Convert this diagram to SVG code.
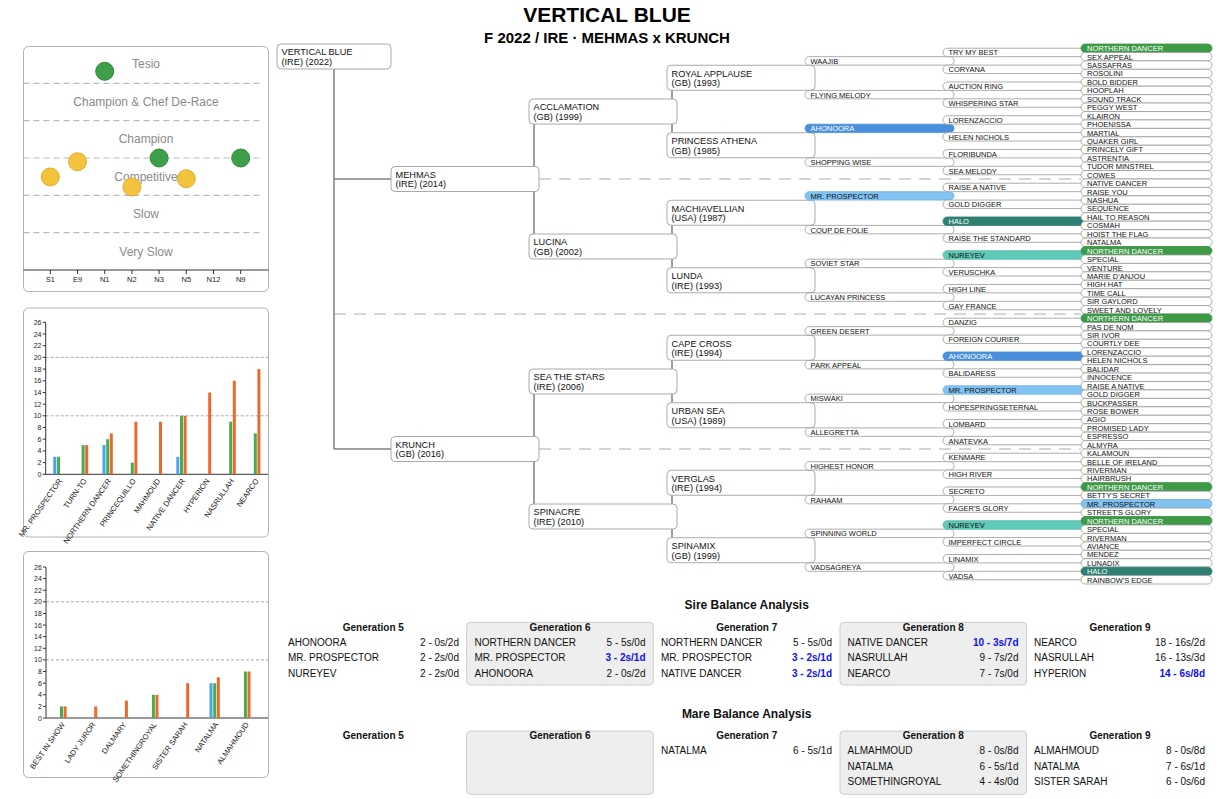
<svg xmlns="http://www.w3.org/2000/svg" width="1220" height="799" viewBox="0 0 1220 799">
<style>
text{font-family:"Liberation Sans",Arial,Helvetica,sans-serif}
.ttl{font-size:21px;font-weight:bold;fill:#000}
.sub{font-size:15px;font-weight:bold;fill:#000}
.bx{fill:#fff;stroke:#aaa;stroke-width:1}
.bt{font-size:9.2px;fill:#111}
.p{fill:#fff;stroke:#999;stroke-width:0.8}
.pt{font-size:7.5px;fill:#111}
.w{fill:#fff}
.gN{fill:#3e9a47;stroke:#3e9a47}
.bA{fill:#4a8fdb;stroke:#4a8fdb}
.lM{fill:#82c3f2;stroke:#6fb3e3}
.hH{fill:#2f7f72;stroke:#2f7f72}
.tN{fill:#5fcab7;stroke:#4fb7a4}
.con{fill:none;stroke:#808080;stroke-width:1.5}
.sep{fill:none;stroke:#c8c8c8;stroke-width:1.5;stroke-dasharray:12 8}
.panel{fill:#fff;stroke:#b0b0b0;stroke-width:1}
.band{stroke:#bbb;stroke-width:1.2;stroke-dasharray:6 4}
.bl{font-size:12px;fill:#8a8a8a;text-anchor:middle}
.ax{stroke:#333;stroke-width:1;fill:none}
.tk{font-size:7.5px;fill:#222;text-anchor:middle}
.yt{font-size:7px;fill:#222;text-anchor:end}
.grid{stroke:#aaa;stroke-width:1;stroke-dasharray:3 2}
.xl{font-size:7.6px;fill:#222;text-anchor:end}
.cg{fill:#3e9e49;stroke:#2f8a3a;stroke-width:1}
.cy{fill:#f3c33e;stroke:#e2ad28;stroke-width:1}
.b1{fill:#4aa3ec}
.b2{fill:#45ae52}
.b3{fill:#ea6a2e}
.sh{font-size:12px;font-weight:bold;fill:#111;text-anchor:middle}
.gh{font-size:10px;font-weight:bold;fill:#111;text-anchor:middle}
.tn{font-size:10px;fill:#111}
.tv{font-size:10px;fill:#111;text-anchor:end}
.hl{fill:#1010ee;font-weight:bold}
.gbox{fill:#eee;stroke:#ccc;stroke-width:1}
</style>

<text class="ttl" x="607" y="21.5" text-anchor="middle">VERTICAL BLUE</text>
<text class="sub" x="607" y="43.3" text-anchor="middle">F 2022 / IRE · MEHMAS x KRUNCH</text>

<!-- Left chart 1 -->
<g id="chart-type">
<rect class="panel" x="23.5" y="46.5" width="245" height="245" rx="5"/>
<line class="band" x1="23.5" y1="83.3" x2="261" y2="83.3"/>
<line class="band" x1="23.5" y1="120.7" x2="261" y2="120.7"/>
<line class="band" x1="23.5" y1="158" x2="261" y2="158"/>
<line class="band" x1="23.5" y1="195.3" x2="261" y2="195.3"/>
<line class="band" x1="23.5" y1="232.7" x2="261" y2="232.7"/>
<text class="bl" x="146" y="68">Tesio</text>
<text class="bl" x="146" y="106">Champion &amp; Chef De-Race</text>
<text class="bl" x="146" y="143.3">Champion</text>
<text class="bl" x="146" y="180.5">Competitive</text>
<text class="bl" x="146" y="217.5">Slow</text>
<text class="bl" x="146" y="255.5">Very Slow</text>
<line class="ax" x1="23.5" y1="270" x2="268.5" y2="270"/>
<path class="ax" d="M50.3 270v4M77.5 270v4M104.7 270v4M131.9 270v4M159.1 270v4M186.3 270v4M213.5 270v4M240.7 270v4"/>
<text class="tk" x="50.3" y="282">S1</text>
<text class="tk" x="77.5" y="282">E9</text>
<text class="tk" x="104.7" y="282">N1</text>
<text class="tk" x="131.9" y="282">N2</text>
<text class="tk" x="159.1" y="282">N3</text>
<text class="tk" x="186.3" y="282">N5</text>
<text class="tk" x="213.5" y="282">N12</text>
<text class="tk" x="240.7" y="282">N9</text>
<circle class="cg" cx="104.7" cy="71.3" r="9"/>
<circle class="cg" cx="159.1" cy="158" r="9"/>
<circle class="cg" cx="240.7" cy="158" r="9"/>
<circle class="cy" cx="50.3" cy="177" r="9"/>
<circle class="cy" cx="77.5" cy="161.7" r="9"/>
<circle class="cy" cx="131.9" cy="187" r="9"/>
<circle class="cy" cx="186.3" cy="178.7" r="9"/>
</g>

<!-- Left chart 2 -->
<g id="chart-sires">
<rect class="panel" x="23.5" y="308" width="245" height="229" rx="5"/>
<line class="grid" x1="45.7" y1="357.4" x2="268" y2="357.4"/>
<line class="grid" x1="45.7" y1="415.8" x2="268" y2="415.8"/>
<line class="ax" x1="45.7" y1="322.3" x2="45.7" y2="474.3"/>
<line class="ax" x1="45.7" y1="474.3" x2="268" y2="474.3"/>
<path class="ax" d="M42.7 474.3h3M42.7 462.6h3M42.7 450.9h3M42.7 439.2h3M42.7 427.5h3M42.7 415.8h3M42.7 404.2h3M42.7 392.5h3M42.7 380.8h3M42.7 369.1h3M42.7 357.4h3M42.7 345.7h3M42.7 334h3M42.7 322.3h3"/>
<text class="yt" x="41.5" y="476.8">0</text>
<text class="yt" x="41.5" y="465.1">2</text>
<text class="yt" x="41.5" y="453.4">4</text>
<text class="yt" x="41.5" y="441.7">6</text>
<text class="yt" x="41.5" y="430">8</text>
<text class="yt" x="41.5" y="418.3">10</text>
<text class="yt" x="41.5" y="406.7">12</text>
<text class="yt" x="41.5" y="395">14</text>
<text class="yt" x="41.5" y="383.3">16</text>
<text class="yt" x="41.5" y="371.6">18</text>
<text class="yt" x="41.5" y="359.9">20</text>
<text class="yt" x="41.5" y="348.2">22</text>
<text class="yt" x="41.5" y="336.5">24</text>
<text class="yt" x="41.5" y="324.8">26</text>
<rect class="b1" x="53.3" y="456.8" width="3" height="17.5"/>
<rect class="b2" x="57" y="456.8" width="3" height="17.5"/>
<rect class="b2" x="81.6" y="445.1" width="3" height="29.2"/>
<rect class="b3" x="85.2" y="445.1" width="3" height="29.2"/>
<rect class="b1" x="102.5" y="445.1" width="3" height="29.2"/>
<rect class="b2" x="106.2" y="439.2" width="3" height="35.1"/>
<rect class="b3" x="109.8" y="433.4" width="3" height="40.9"/>
<rect class="b2" x="130.8" y="462.6" width="3" height="11.7"/>
<rect class="b3" x="134.4" y="421.7" width="3" height="52.6"/>
<rect class="b3" x="159" y="421.7" width="3" height="52.6"/>
<rect class="b1" x="176.3" y="456.8" width="3" height="17.5"/>
<rect class="b2" x="180" y="415.8" width="3" height="58.5"/>
<rect class="b3" x="183.6" y="415.8" width="3" height="58.5"/>
<rect class="b3" x="208.2" y="392.5" width="3" height="81.8"/>
<rect class="b2" x="229.2" y="421.7" width="3" height="52.6"/>
<rect class="b3" x="232.8" y="380.8" width="3" height="93.5"/>
<rect class="b2" x="253.8" y="433.4" width="3" height="40.9"/>
<rect class="b3" x="257.4" y="369.1" width="3" height="105.2"/>
<text class="xl" transform="translate(62.3,481) rotate(-55)">MR. PROSPECTOR</text>
<text class="xl" transform="translate(86.9,481) rotate(-55)">TURN-TO</text>
<text class="xl" transform="translate(111.5,481) rotate(-55)">NORTHERN DANCER</text>
<text class="xl" transform="translate(136.1,481) rotate(-55)">PRINCEQUILLO</text>
<text class="xl" transform="translate(160.7,481) rotate(-55)">MAHMOUD</text>
<text class="xl" transform="translate(185.3,481) rotate(-55)">NATIVE DANCER</text>
<text class="xl" transform="translate(209.9,481) rotate(-55)">HYPERION</text>
<text class="xl" transform="translate(234.5,481) rotate(-55)">NASRULLAH</text>
<text class="xl" transform="translate(259.1,481) rotate(-55)">NEARCO</text>
</g>

<!-- Left chart 3 -->
<g id="chart-mares">
<rect class="panel" x="23.5" y="551.5" width="245" height="226" rx="5"/>
<line class="grid" x1="46" y1="601.8" x2="268" y2="601.8"/>
<line class="grid" x1="46" y1="659.9" x2="268" y2="659.9"/>
<line class="ax" x1="46" y1="567" x2="46" y2="718"/>
<line x1="46" y1="718" x2="268" y2="718" stroke="#777" stroke-width="1.5"/>
<path class="ax" d="M43 718h3M43 706.4h3M43 694.8h3M43 683.2h3M43 671.5h3M43 659.9h3M43 648.3h3M43 636.7h3M43 625.1h3M43 613.5h3M43 601.8h3M43 590.2h3M43 578.6h3M43 567h3"/>
<text class="yt" x="41.8" y="720.5">0</text>
<text class="yt" x="41.8" y="708.9">2</text>
<text class="yt" x="41.8" y="697.3">4</text>
<text class="yt" x="41.8" y="685.7">6</text>
<text class="yt" x="41.8" y="674">8</text>
<text class="yt" x="41.8" y="662.4">10</text>
<text class="yt" x="41.8" y="650.8">12</text>
<text class="yt" x="41.8" y="639.2">14</text>
<text class="yt" x="41.8" y="627.6">16</text>
<text class="yt" x="41.8" y="616">18</text>
<text class="yt" x="41.8" y="604.3">20</text>
<text class="yt" x="41.8" y="592.7">22</text>
<text class="yt" x="41.8" y="581.1">24</text>
<text class="yt" x="41.8" y="569.5">26</text>
<rect class="b2" x="60" y="706.4" width="3" height="11.6"/>
<rect class="b3" x="63.6" y="706.4" width="3" height="11.6"/>
<rect class="b3" x="94.2" y="706.4" width="3" height="11.6"/>
<rect class="b3" x="124.9" y="700.6" width="3" height="17.4"/>
<rect class="b2" x="151.9" y="694.8" width="3" height="23.2"/>
<rect class="b3" x="155.5" y="694.8" width="3" height="23.2"/>
<rect class="b3" x="186.2" y="683.2" width="3" height="34.8"/>
<rect class="b1" x="209.5" y="683.2" width="3" height="34.8"/>
<rect class="b2" x="213.2" y="683.2" width="3" height="34.8"/>
<rect class="b3" x="216.8" y="677.3" width="3" height="40.7"/>
<rect class="b2" x="243.9" y="671.5" width="3" height="46.5"/>
<rect class="b3" x="247.5" y="671.5" width="3" height="46.5"/>
<text class="xl" transform="translate(65.3,724.5) rotate(-55)">BEST IN SHOW</text>
<text class="xl" transform="translate(96,724.5) rotate(-55)">LADY JUROR</text>
<text class="xl" transform="translate(126.6,724.5) rotate(-55)">DALMARY</text>
<text class="xl" transform="translate(157.3,724.5) rotate(-55)">SOMETHINGROYAL</text>
<text class="xl" transform="translate(187.9,724.5) rotate(-55)">SISTER SARAH</text>
<text class="xl" transform="translate(218.6,724.5) rotate(-55)">NATALMA</text>
<text class="xl" transform="translate(249.2,724.5) rotate(-55)">ALMAHMOUD</text>
</g>

<!-- Connectors -->
<g id="connectors">
<path class="sep" d="M539 179H1081M334 314H1081M539 449H1081"/>
<path class="con" d="M334 69V449M334 179H391M334 449H391M534 124V234M534 394V504M672 90.25V132.75M672 225.25V267.75M672 360.25V402.75M672 495.25V537.75"/>
</g>

<!-- Boxes -->
<g id="n-vertical-blue" transform="translate(277,44)"><rect class="bx" width="114" height="25" rx="4"/><text class="bt" x="4.5" y="11.3">VERTICAL BLUE</text><text class="bt" x="4.5" y="20.8">(IRE) (2022)</text></g>
<g id="n-mehmas" transform="translate(391,166.5)"><rect class="bx" width="148" height="25" rx="4"/><text class="bt" x="4.5" y="11.3">MEHMAS</text><text class="bt" x="4.5" y="20.8">(IRE) (2014)</text></g>
<g id="n-krunch" transform="translate(391,436.5)"><rect class="bx" width="148" height="25" rx="4"/><text class="bt" x="4.5" y="11.3">KRUNCH</text><text class="bt" x="4.5" y="20.8">(GB) (2016)</text></g>
<g id="n-acclamation" transform="translate(529,99)"><rect class="bx" width="148" height="25" rx="4"/><text class="bt" x="4.5" y="11.3">ACCLAMATION</text><text class="bt" x="4.5" y="20.8">(GB) (1999)</text></g>
<g id="n-lucina" transform="translate(529,234)"><rect class="bx" width="148" height="25" rx="4"/><text class="bt" x="4.5" y="11.3">LUCINA</text><text class="bt" x="4.5" y="20.8">(GB) (2002)</text></g>
<g id="n-sea-the-stars" transform="translate(529,369)"><rect class="bx" width="148" height="25" rx="4"/><text class="bt" x="4.5" y="11.3">SEA THE STARS</text><text class="bt" x="4.5" y="20.8">(IRE) (2006)</text></g>
<g id="n-spinacre" transform="translate(529,504)"><rect class="bx" width="148" height="25" rx="4"/><text class="bt" x="4.5" y="11.3">SPINACRE</text><text class="bt" x="4.5" y="20.8">(IRE) (2010)</text></g>
<g id="n-royal-applause" transform="translate(667,65.25)"><rect class="bx" width="148" height="25" rx="4"/><text class="bt" x="4.5" y="11.3">ROYAL APPLAUSE</text><text class="bt" x="4.5" y="20.8">(GB) (1993)</text></g>
<g id="n-princess-athena" transform="translate(667,132.75)"><rect class="bx" width="148" height="25" rx="4"/><text class="bt" x="4.5" y="11.3">PRINCESS ATHENA</text><text class="bt" x="4.5" y="20.8">(GB) (1985)</text></g>
<g id="n-machiavellian" transform="translate(667,200.25)"><rect class="bx" width="148" height="25" rx="4"/><text class="bt" x="4.5" y="11.3">MACHIAVELLIAN</text><text class="bt" x="4.5" y="20.8">(USA) (1987)</text></g>
<g id="n-lunda" transform="translate(667,267.75)"><rect class="bx" width="148" height="25" rx="4"/><text class="bt" x="4.5" y="11.3">LUNDA</text><text class="bt" x="4.5" y="20.8">(IRE) (1993)</text></g>
<g id="n-cape-cross" transform="translate(667,335.25)"><rect class="bx" width="148" height="25" rx="4"/><text class="bt" x="4.5" y="11.3">CAPE CROSS</text><text class="bt" x="4.5" y="20.8">(IRE) (1994)</text></g>
<g id="n-urban-sea" transform="translate(667,402.75)"><rect class="bx" width="148" height="25" rx="4"/><text class="bt" x="4.5" y="11.3">URBAN SEA</text><text class="bt" x="4.5" y="20.8">(USA) (1989)</text></g>
<g id="n-verglas" transform="translate(667,470.25)"><rect class="bx" width="148" height="25" rx="4"/><text class="bt" x="4.5" y="11.3">VERGLAS</text><text class="bt" x="4.5" y="20.8">(IRE) (1994)</text></g>
<g id="n-spinamix" transform="translate(667,537.75)"><rect class="bx" width="148" height="25" rx="4"/><text class="bt" x="4.5" y="11.3">SPINAMIX</text><text class="bt" x="4.5" y="20.8">(GB) (1999)</text></g>

<!-- Gen 4 pills -->
<g id="g4-0" transform="translate(805,56.66)"><rect class="p" width="149" height="8.44" rx="4.2"/><text class="pt" x="5.5" y="7.2">WAAJIB</text></g>
<g id="g4-1" transform="translate(805,90.41)"><rect class="p" width="149" height="8.44" rx="4.2"/><text class="pt" x="5.5" y="7.2">FLYING MELODY</text></g>
<g id="g4-2" transform="translate(805,124.16)"><rect class="p bA" width="149" height="8.44" rx="4.2"/><text class="pt w" x="5.5" y="7.2">AHONOORA</text></g>
<g id="g4-3" transform="translate(805,157.91)"><rect class="p" width="149" height="8.44" rx="4.2"/><text class="pt" x="5.5" y="7.2">SHOPPING WISE</text></g>
<g id="g4-4" transform="translate(805,191.66)"><rect class="p lM" width="149" height="8.44" rx="4.2"/><text class="pt" x="5.5" y="7.2">MR. PROSPECTOR</text></g>
<g id="g4-5" transform="translate(805,225.41)"><rect class="p" width="149" height="8.44" rx="4.2"/><text class="pt" x="5.5" y="7.2">COUP DE FOLIE</text></g>
<g id="g4-6" transform="translate(805,259.16)"><rect class="p" width="149" height="8.44" rx="4.2"/><text class="pt" x="5.5" y="7.2">SOVIET STAR</text></g>
<g id="g4-7" transform="translate(805,292.91)"><rect class="p" width="149" height="8.44" rx="4.2"/><text class="pt" x="5.5" y="7.2">LUCAYAN PRINCESS</text></g>
<g id="g4-8" transform="translate(805,326.66)"><rect class="p" width="149" height="8.44" rx="4.2"/><text class="pt" x="5.5" y="7.2">GREEN DESERT</text></g>
<g id="g4-9" transform="translate(805,360.41)"><rect class="p" width="149" height="8.44" rx="4.2"/><text class="pt" x="5.5" y="7.2">PARK APPEAL</text></g>
<g id="g4-10" transform="translate(805,394.16)"><rect class="p" width="149" height="8.44" rx="4.2"/><text class="pt" x="5.5" y="7.2">MISWAKI</text></g>
<g id="g4-11" transform="translate(805,427.91)"><rect class="p" width="149" height="8.44" rx="4.2"/><text class="pt" x="5.5" y="7.2">ALLEGRETTA</text></g>
<g id="g4-12" transform="translate(805,461.66)"><rect class="p" width="149" height="8.44" rx="4.2"/><text class="pt" x="5.5" y="7.2">HIGHEST HONOR</text></g>
<g id="g4-13" transform="translate(805,495.41)"><rect class="p" width="149" height="8.44" rx="4.2"/><text class="pt" x="5.5" y="7.2">RAHAAM</text></g>
<g id="g4-14" transform="translate(805,529.16)"><rect class="p" width="149" height="8.44" rx="4.2"/><text class="pt" x="5.5" y="7.2">SPINNING WORLD</text></g>
<g id="g4-15" transform="translate(805,562.91)"><rect class="p" width="149" height="8.44" rx="4.2"/><text class="pt" x="5.5" y="7.2">VADSAGREYA</text></g>

<!-- Gen 5 pills -->
<g id="g5-0" transform="translate(943,48.22)"><rect class="p" width="149" height="8.44" rx="4.2"/><text class="pt" x="5.5" y="7.2">TRY MY BEST</text></g>
<g id="g5-1" transform="translate(943,65.09)"><rect class="p" width="149" height="8.44" rx="4.2"/><text class="pt" x="5.5" y="7.2">CORYANA</text></g>
<g id="g5-2" transform="translate(943,81.97)"><rect class="p" width="149" height="8.44" rx="4.2"/><text class="pt" x="5.5" y="7.2">AUCTION RING</text></g>
<g id="g5-3" transform="translate(943,98.84)"><rect class="p" width="149" height="8.44" rx="4.2"/><text class="pt" x="5.5" y="7.2">WHISPERING STAR</text></g>
<g id="g5-4" transform="translate(943,115.72)"><rect class="p" width="149" height="8.44" rx="4.2"/><text class="pt" x="5.5" y="7.2">LORENZACCIO</text></g>
<g id="g5-5" transform="translate(943,132.59)"><rect class="p" width="149" height="8.44" rx="4.2"/><text class="pt" x="5.5" y="7.2">HELEN NICHOLS</text></g>
<g id="g5-6" transform="translate(943,149.47)"><rect class="p" width="149" height="8.44" rx="4.2"/><text class="pt" x="5.5" y="7.2">FLORIBUNDA</text></g>
<g id="g5-7" transform="translate(943,166.34)"><rect class="p" width="149" height="8.44" rx="4.2"/><text class="pt" x="5.5" y="7.2">SEA MELODY</text></g>
<g id="g5-8" transform="translate(943,183.22)"><rect class="p" width="149" height="8.44" rx="4.2"/><text class="pt" x="5.5" y="7.2">RAISE A NATIVE</text></g>
<g id="g5-9" transform="translate(943,200.09)"><rect class="p" width="149" height="8.44" rx="4.2"/><text class="pt" x="5.5" y="7.2">GOLD DIGGER</text></g>
<g id="g5-10" transform="translate(943,216.97)"><rect class="p hH" width="149" height="8.44" rx="4.2"/><text class="pt w" x="5.5" y="7.2">HALO</text></g>
<g id="g5-11" transform="translate(943,233.84)"><rect class="p" width="149" height="8.44" rx="4.2"/><text class="pt" x="5.5" y="7.2">RAISE THE STANDARD</text></g>
<g id="g5-12" transform="translate(943,250.72)"><rect class="p tN" width="149" height="8.44" rx="4.2"/><text class="pt" x="5.5" y="7.2">NUREYEV</text></g>
<g id="g5-13" transform="translate(943,267.59)"><rect class="p" width="149" height="8.44" rx="4.2"/><text class="pt" x="5.5" y="7.2">VERUSCHKA</text></g>
<g id="g5-14" transform="translate(943,284.47)"><rect class="p" width="149" height="8.44" rx="4.2"/><text class="pt" x="5.5" y="7.2">HIGH LINE</text></g>
<g id="g5-15" transform="translate(943,301.34)"><rect class="p" width="149" height="8.44" rx="4.2"/><text class="pt" x="5.5" y="7.2">GAY FRANCE</text></g>
<g id="g5-16" transform="translate(943,318.22)"><rect class="p" width="149" height="8.44" rx="4.2"/><text class="pt" x="5.5" y="7.2">DANZIG</text></g>
<g id="g5-17" transform="translate(943,335.09)"><rect class="p" width="149" height="8.44" rx="4.2"/><text class="pt" x="5.5" y="7.2">FOREIGN COURIER</text></g>
<g id="g5-18" transform="translate(943,351.97)"><rect class="p bA" width="149" height="8.44" rx="4.2"/><text class="pt w" x="5.5" y="7.2">AHONOORA</text></g>
<g id="g5-19" transform="translate(943,368.84)"><rect class="p" width="149" height="8.44" rx="4.2"/><text class="pt" x="5.5" y="7.2">BALIDARESS</text></g>
<g id="g5-20" transform="translate(943,385.72)"><rect class="p lM" width="149" height="8.44" rx="4.2"/><text class="pt" x="5.5" y="7.2">MR. PROSPECTOR</text></g>
<g id="g5-21" transform="translate(943,402.59)"><rect class="p" width="149" height="8.44" rx="4.2"/><text class="pt" x="5.5" y="7.2">HOPESPRINGSETERNAL</text></g>
<g id="g5-22" transform="translate(943,419.47)"><rect class="p" width="149" height="8.44" rx="4.2"/><text class="pt" x="5.5" y="7.2">LOMBARD</text></g>
<g id="g5-23" transform="translate(943,436.34)"><rect class="p" width="149" height="8.44" rx="4.2"/><text class="pt" x="5.5" y="7.2">ANATEVKA</text></g>
<g id="g5-24" transform="translate(943,453.22)"><rect class="p" width="149" height="8.44" rx="4.2"/><text class="pt" x="5.5" y="7.2">KENMARE</text></g>
<g id="g5-25" transform="translate(943,470.09)"><rect class="p" width="149" height="8.44" rx="4.2"/><text class="pt" x="5.5" y="7.2">HIGH RIVER</text></g>
<g id="g5-26" transform="translate(943,486.97)"><rect class="p" width="149" height="8.44" rx="4.2"/><text class="pt" x="5.5" y="7.2">SECRETO</text></g>
<g id="g5-27" transform="translate(943,503.84)"><rect class="p" width="149" height="8.44" rx="4.2"/><text class="pt" x="5.5" y="7.2">FAGER'S GLORY</text></g>
<g id="g5-28" transform="translate(943,520.72)"><rect class="p tN" width="149" height="8.44" rx="4.2"/><text class="pt" x="5.5" y="7.2">NUREYEV</text></g>
<g id="g5-29" transform="translate(943,537.59)"><rect class="p" width="149" height="8.44" rx="4.2"/><text class="pt" x="5.5" y="7.2">IMPERFECT CIRCLE</text></g>
<g id="g5-30" transform="translate(943,554.47)"><rect class="p" width="149" height="8.44" rx="4.2"/><text class="pt" x="5.5" y="7.2">LINAMIX</text></g>
<g id="g5-31" transform="translate(943,571.34)"><rect class="p" width="149" height="8.44" rx="4.2"/><text class="pt" x="5.5" y="7.2">VADSA</text></g>

<!-- Gen 6 pills -->
<g id="g6-0" transform="translate(1081,44)"><rect class="p gN" width="131" height="8.44" rx="4.2"/><text class="pt w" x="6" y="7.2">NORTHERN DANCER</text></g>
<g id="g6-1" transform="translate(1081,52.44)"><rect class="p" width="131" height="8.44" rx="4.2"/><text class="pt" x="6" y="7.2">SEX APPEAL</text></g>
<g id="g6-2" transform="translate(1081,60.88)"><rect class="p" width="131" height="8.44" rx="4.2"/><text class="pt" x="6" y="7.2">SASSAFRAS</text></g>
<g id="g6-3" transform="translate(1081,69.31)"><rect class="p" width="131" height="8.44" rx="4.2"/><text class="pt" x="6" y="7.2">ROSOLINI</text></g>
<g id="g6-4" transform="translate(1081,77.75)"><rect class="p" width="131" height="8.44" rx="4.2"/><text class="pt" x="6" y="7.2">BOLD BIDDER</text></g>
<g id="g6-5" transform="translate(1081,86.19)"><rect class="p" width="131" height="8.44" rx="4.2"/><text class="pt" x="6" y="7.2">HOOPLAH</text></g>
<g id="g6-6" transform="translate(1081,94.63)"><rect class="p" width="131" height="8.44" rx="4.2"/><text class="pt" x="6" y="7.2">SOUND TRACK</text></g>
<g id="g6-7" transform="translate(1081,103.06)"><rect class="p" width="131" height="8.44" rx="4.2"/><text class="pt" x="6" y="7.2">PEGGY WEST</text></g>
<g id="g6-8" transform="translate(1081,111.5)"><rect class="p" width="131" height="8.44" rx="4.2"/><text class="pt" x="6" y="7.2">KLAIRON</text></g>
<g id="g6-9" transform="translate(1081,119.94)"><rect class="p" width="131" height="8.44" rx="4.2"/><text class="pt" x="6" y="7.2">PHOENISSA</text></g>
<g id="g6-10" transform="translate(1081,128.38)"><rect class="p" width="131" height="8.44" rx="4.2"/><text class="pt" x="6" y="7.2">MARTIAL</text></g>
<g id="g6-11" transform="translate(1081,136.81)"><rect class="p" width="131" height="8.44" rx="4.2"/><text class="pt" x="6" y="7.2">QUAKER GIRL</text></g>
<g id="g6-12" transform="translate(1081,145.25)"><rect class="p" width="131" height="8.44" rx="4.2"/><text class="pt" x="6" y="7.2">PRINCELY GIFT</text></g>
<g id="g6-13" transform="translate(1081,153.69)"><rect class="p" width="131" height="8.44" rx="4.2"/><text class="pt" x="6" y="7.2">ASTRENTIA</text></g>
<g id="g6-14" transform="translate(1081,162.13)"><rect class="p" width="131" height="8.44" rx="4.2"/><text class="pt" x="6" y="7.2">TUDOR MINSTREL</text></g>
<g id="g6-15" transform="translate(1081,170.56)"><rect class="p" width="131" height="8.44" rx="4.2"/><text class="pt" x="6" y="7.2">COWES</text></g>
<g id="g6-16" transform="translate(1081,179)"><rect class="p" width="131" height="8.44" rx="4.2"/><text class="pt" x="6" y="7.2">NATIVE DANCER</text></g>
<g id="g6-17" transform="translate(1081,187.44)"><rect class="p" width="131" height="8.44" rx="4.2"/><text class="pt" x="6" y="7.2">RAISE YOU</text></g>
<g id="g6-18" transform="translate(1081,195.88)"><rect class="p" width="131" height="8.44" rx="4.2"/><text class="pt" x="6" y="7.2">NASHUA</text></g>
<g id="g6-19" transform="translate(1081,204.31)"><rect class="p" width="131" height="8.44" rx="4.2"/><text class="pt" x="6" y="7.2">SEQUENCE</text></g>
<g id="g6-20" transform="translate(1081,212.75)"><rect class="p" width="131" height="8.44" rx="4.2"/><text class="pt" x="6" y="7.2">HAIL TO REASON</text></g>
<g id="g6-21" transform="translate(1081,221.19)"><rect class="p" width="131" height="8.44" rx="4.2"/><text class="pt" x="6" y="7.2">COSMAH</text></g>
<g id="g6-22" transform="translate(1081,229.63)"><rect class="p" width="131" height="8.44" rx="4.2"/><text class="pt" x="6" y="7.2">HOIST THE FLAG</text></g>
<g id="g6-23" transform="translate(1081,238.06)"><rect class="p" width="131" height="8.44" rx="4.2"/><text class="pt" x="6" y="7.2">NATALMA</text></g>
<g id="g6-24" transform="translate(1081,246.5)"><rect class="p gN" width="131" height="8.44" rx="4.2"/><text class="pt w" x="6" y="7.2">NORTHERN DANCER</text></g>
<g id="g6-25" transform="translate(1081,254.94)"><rect class="p" width="131" height="8.44" rx="4.2"/><text class="pt" x="6" y="7.2">SPECIAL</text></g>
<g id="g6-26" transform="translate(1081,263.38)"><rect class="p" width="131" height="8.44" rx="4.2"/><text class="pt" x="6" y="7.2">VENTURE</text></g>
<g id="g6-27" transform="translate(1081,271.81)"><rect class="p" width="131" height="8.44" rx="4.2"/><text class="pt" x="6" y="7.2">MARIE D'ANJOU</text></g>
<g id="g6-28" transform="translate(1081,280.25)"><rect class="p" width="131" height="8.44" rx="4.2"/><text class="pt" x="6" y="7.2">HIGH HAT</text></g>
<g id="g6-29" transform="translate(1081,288.69)"><rect class="p" width="131" height="8.44" rx="4.2"/><text class="pt" x="6" y="7.2">TIME CALL</text></g>
<g id="g6-30" transform="translate(1081,297.13)"><rect class="p" width="131" height="8.44" rx="4.2"/><text class="pt" x="6" y="7.2">SIR GAYLORD</text></g>
<g id="g6-31" transform="translate(1081,305.56)"><rect class="p" width="131" height="8.44" rx="4.2"/><text class="pt" x="6" y="7.2">SWEET AND LOVELY</text></g>
<g id="g6-32" transform="translate(1081,314)"><rect class="p gN" width="131" height="8.44" rx="4.2"/><text class="pt w" x="6" y="7.2">NORTHERN DANCER</text></g>
<g id="g6-33" transform="translate(1081,322.44)"><rect class="p" width="131" height="8.44" rx="4.2"/><text class="pt" x="6" y="7.2">PAS DE NOM</text></g>
<g id="g6-34" transform="translate(1081,330.88)"><rect class="p" width="131" height="8.44" rx="4.2"/><text class="pt" x="6" y="7.2">SIR IVOR</text></g>
<g id="g6-35" transform="translate(1081,339.31)"><rect class="p" width="131" height="8.44" rx="4.2"/><text class="pt" x="6" y="7.2">COURTLY DEE</text></g>
<g id="g6-36" transform="translate(1081,347.75)"><rect class="p" width="131" height="8.44" rx="4.2"/><text class="pt" x="6" y="7.2">LORENZACCIO</text></g>
<g id="g6-37" transform="translate(1081,356.19)"><rect class="p" width="131" height="8.44" rx="4.2"/><text class="pt" x="6" y="7.2">HELEN NICHOLS</text></g>
<g id="g6-38" transform="translate(1081,364.63)"><rect class="p" width="131" height="8.44" rx="4.2"/><text class="pt" x="6" y="7.2">BALIDAR</text></g>
<g id="g6-39" transform="translate(1081,373.06)"><rect class="p" width="131" height="8.44" rx="4.2"/><text class="pt" x="6" y="7.2">INNOCENCE</text></g>
<g id="g6-40" transform="translate(1081,381.5)"><rect class="p" width="131" height="8.44" rx="4.2"/><text class="pt" x="6" y="7.2">RAISE A NATIVE</text></g>
<g id="g6-41" transform="translate(1081,389.94)"><rect class="p" width="131" height="8.44" rx="4.2"/><text class="pt" x="6" y="7.2">GOLD DIGGER</text></g>
<g id="g6-42" transform="translate(1081,398.38)"><rect class="p" width="131" height="8.44" rx="4.2"/><text class="pt" x="6" y="7.2">BUCKPASSER</text></g>
<g id="g6-43" transform="translate(1081,406.81)"><rect class="p" width="131" height="8.44" rx="4.2"/><text class="pt" x="6" y="7.2">ROSE BOWER</text></g>
<g id="g6-44" transform="translate(1081,415.25)"><rect class="p" width="131" height="8.44" rx="4.2"/><text class="pt" x="6" y="7.2">AGIO</text></g>
<g id="g6-45" transform="translate(1081,423.69)"><rect class="p" width="131" height="8.44" rx="4.2"/><text class="pt" x="6" y="7.2">PROMISED LADY</text></g>
<g id="g6-46" transform="translate(1081,432.13)"><rect class="p" width="131" height="8.44" rx="4.2"/><text class="pt" x="6" y="7.2">ESPRESSO</text></g>
<g id="g6-47" transform="translate(1081,440.56)"><rect class="p" width="131" height="8.44" rx="4.2"/><text class="pt" x="6" y="7.2">ALMYRA</text></g>
<g id="g6-48" transform="translate(1081,449)"><rect class="p" width="131" height="8.44" rx="4.2"/><text class="pt" x="6" y="7.2">KALAMOUN</text></g>
<g id="g6-49" transform="translate(1081,457.44)"><rect class="p" width="131" height="8.44" rx="4.2"/><text class="pt" x="6" y="7.2">BELLE OF IRELAND</text></g>
<g id="g6-50" transform="translate(1081,465.88)"><rect class="p" width="131" height="8.44" rx="4.2"/><text class="pt" x="6" y="7.2">RIVERMAN</text></g>
<g id="g6-51" transform="translate(1081,474.31)"><rect class="p" width="131" height="8.44" rx="4.2"/><text class="pt" x="6" y="7.2">HAIRBRUSH</text></g>
<g id="g6-52" transform="translate(1081,482.75)"><rect class="p gN" width="131" height="8.44" rx="4.2"/><text class="pt w" x="6" y="7.2">NORTHERN DANCER</text></g>
<g id="g6-53" transform="translate(1081,491.19)"><rect class="p" width="131" height="8.44" rx="4.2"/><text class="pt" x="6" y="7.2">BETTY'S SECRET</text></g>
<g id="g6-54" transform="translate(1081,499.63)"><rect class="p lM" width="131" height="8.44" rx="4.2"/><text class="pt" x="6" y="7.2">MR. PROSPECTOR</text></g>
<g id="g6-55" transform="translate(1081,508.06)"><rect class="p" width="131" height="8.44" rx="4.2"/><text class="pt" x="6" y="7.2">STREET'S GLORY</text></g>
<g id="g6-56" transform="translate(1081,516.5)"><rect class="p gN" width="131" height="8.44" rx="4.2"/><text class="pt w" x="6" y="7.2">NORTHERN DANCER</text></g>
<g id="g6-57" transform="translate(1081,524.94)"><rect class="p" width="131" height="8.44" rx="4.2"/><text class="pt" x="6" y="7.2">SPECIAL</text></g>
<g id="g6-58" transform="translate(1081,533.38)"><rect class="p" width="131" height="8.44" rx="4.2"/><text class="pt" x="6" y="7.2">RIVERMAN</text></g>
<g id="g6-59" transform="translate(1081,541.81)"><rect class="p" width="131" height="8.44" rx="4.2"/><text class="pt" x="6" y="7.2">AVIANCE</text></g>
<g id="g6-60" transform="translate(1081,550.25)"><rect class="p" width="131" height="8.44" rx="4.2"/><text class="pt" x="6" y="7.2">MENDEZ</text></g>
<g id="g6-61" transform="translate(1081,558.69)"><rect class="p" width="131" height="8.44" rx="4.2"/><text class="pt" x="6" y="7.2">LUNADIX</text></g>
<g id="g6-62" transform="translate(1081,567.13)"><rect class="p hH" width="131" height="8.44" rx="4.2"/><text class="pt w" x="6" y="7.2">HALO</text></g>
<g id="g6-63" transform="translate(1081,575.56)"><rect class="p" width="131" height="8.44" rx="4.2"/><text class="pt" x="6" y="7.2">RAINBOW'S EDGE</text></g>

<!-- Sire Balance -->
<g id="sire-balance">
<text class="sh" x="746.7" y="609">Sire Balance Analysis</text>
<rect class="gbox" x="466.7" y="622.3" width="186.6" height="62.7" rx="4"/>
<rect class="gbox" x="840" y="622.3" width="186.6" height="62.7" rx="4"/>
<text class="gh" x="373.3" y="630.5">Generation 5</text>
<text class="gh" x="560" y="630.5">Generation 6</text>
<text class="gh" x="746.7" y="630.5">Generation 7</text>
<text class="gh" x="933.3" y="630.5">Generation 8</text>
<text class="gh" x="1120" y="630.5">Generation 9</text>
<text class="tn" x="288" y="645.5">AHONOORA</text><text class="tv" x="459" y="645.5">2 - 0s/2d</text>
<text class="tn" x="288" y="661">MR. PROSPECTOR</text><text class="tv" x="459" y="661">2 - 2s/0d</text>
<text class="tn" x="288" y="676.5">NUREYEV</text><text class="tv" x="459" y="676.5">2 - 2s/0d</text>
<text class="tn" x="474.5" y="645.5">NORTHERN DANCER</text><text class="tv" x="645.5" y="645.5">5 - 5s/0d</text>
<text class="tn" x="474.5" y="661">MR. PROSPECTOR</text><text class="tv hl" x="645.5" y="661">3 - 2s/1d</text>
<text class="tn" x="474.5" y="676.5">AHONOORA</text><text class="tv" x="645.5" y="676.5">2 - 0s/2d</text>
<text class="tn" x="661" y="645.5">NORTHERN DANCER</text><text class="tv" x="832" y="645.5">5 - 5s/0d</text>
<text class="tn" x="661" y="661">MR. PROSPECTOR</text><text class="tv hl" x="832" y="661">3 - 2s/1d</text>
<text class="tn" x="661" y="676.5">NATIVE DANCER</text><text class="tv hl" x="832" y="676.5">3 - 2s/1d</text>
<text class="tn" x="847.5" y="645.5">NATIVE DANCER</text><text class="tv hl" x="1018.5" y="645.5">10 - 3s/7d</text>
<text class="tn" x="847.5" y="661">NASRULLAH</text><text class="tv" x="1018.5" y="661">9 - 7s/2d</text>
<text class="tn" x="847.5" y="676.5">NEARCO</text><text class="tv" x="1018.5" y="676.5">7 - 7s/0d</text>
<text class="tn" x="1034" y="645.5">NEARCO</text><text class="tv" x="1205" y="645.5">18 - 16s/2d</text>
<text class="tn" x="1034" y="661">NASRULLAH</text><text class="tv" x="1205" y="661">16 - 13s/3d</text>
<text class="tn" x="1034" y="676.5">HYPERION</text><text class="tv hl" x="1205" y="676.5">14 - 6s/8d</text>
</g>

<!-- Mare Balance -->
<g id="mare-balance">
<text class="sh" x="746.7" y="718.3">Mare Balance Analysis</text>
<rect class="gbox" x="466.7" y="731" width="186.6" height="63.3" rx="4"/>
<rect class="gbox" x="840" y="731" width="186.6" height="63.3" rx="4"/>
<text class="gh" x="373.3" y="739">Generation 5</text>
<text class="gh" x="560" y="739">Generation 6</text>
<text class="gh" x="746.7" y="739">Generation 7</text>
<text class="gh" x="933.3" y="739">Generation 8</text>
<text class="gh" x="1120" y="739">Generation 9</text>
<text class="tn" x="661" y="754">NATALMA</text><text class="tv" x="832" y="754">6 - 5s/1d</text>
<text class="tn" x="847.5" y="754">ALMAHMOUD</text><text class="tv" x="1018.5" y="754">8 - 0s/8d</text>
<text class="tn" x="847.5" y="769.5">NATALMA</text><text class="tv" x="1018.5" y="769.5">6 - 5s/1d</text>
<text class="tn" x="847.5" y="785">SOMETHINGROYAL</text><text class="tv" x="1018.5" y="785">4 - 4s/0d</text>
<text class="tn" x="1034" y="754">ALMAHMOUD</text><text class="tv" x="1205" y="754">8 - 0s/8d</text>
<text class="tn" x="1034" y="769.5">NATALMA</text><text class="tv" x="1205" y="769.5">7 - 6s/1d</text>
<text class="tn" x="1034" y="785">SISTER SARAH</text><text class="tv" x="1205" y="785">6 - 0s/6d</text>
</g>
</svg>
